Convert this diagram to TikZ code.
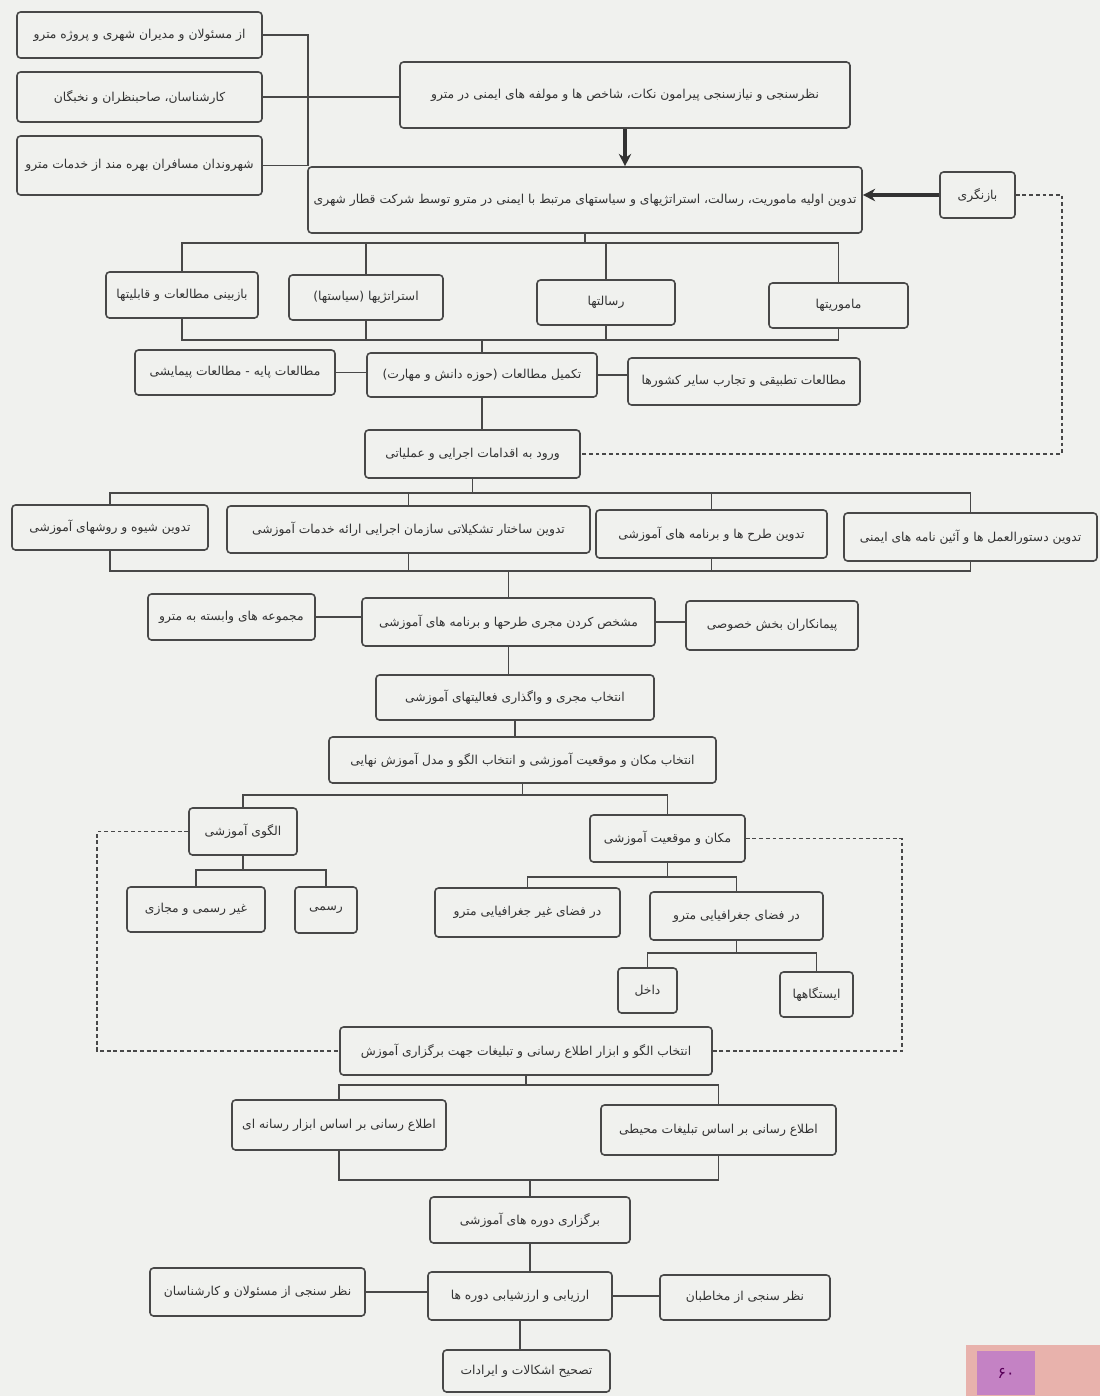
\documentclass[tikz,border=0pt]{standalone}
\usepackage{fontspec}
\newfontfamily\farsi[Script=Arabic]{DejaVu Sans}
\TeXXeTstate=1
\usetikzlibrary{arrows.meta,positioning}
\definecolor{paper}{RGB}{240,241,238}
\definecolor{ink}{RGB}{72,72,72}
\definecolor{badge}{RGB}{232,178,172}
\definecolor{badgein}{RGB}{196,130,196}
\newcommand{\rl}[1]{\beginR #1\endR}

\begin{document}
\begin{tikzpicture}[x=0.02cm, y=-0.02cm,
    block/.style={draw=ink, line width=0.9pt, rounded corners=2pt, fill=paper, inner sep=2pt,
                  font=\farsi\fontsize{7}{9}\selectfont, text=black!80},
    sz/.style 2 args={minimum width=#1*0.02cm, minimum height=#2*0.02cm},
    link/.style={draw=ink, line width=0.8pt},
    heavy/.style={draw=ink!70!black, line width=2.4pt, -{Stealth[length=7pt,width=7pt]}},
    feedback/.style={draw=ink, line width=0.7pt, dash pattern=on 2.2pt off 1.6pt}
  ]

  \fill[paper] (0,0) rectangle (1100,1396);
  \useasboundingbox (0,0) rectangle (1100,1396);

  % survey sources
  \node[block, sz={245}{46}] (src1) at (139.5,35) {\rl{از مسئولان و مدیران شهری و پروژه مترو}};
  \node[block, sz={245}{50}] (src2) at (139.5,97) {\rl{کارشناسان، صاحبنظران و نخبگان}};
  \node[block, sz={245}{59}] (src3) at (139.5,165.5) {\rl{شهروندان مسافران بهره مند از خدمات مترو}};
  \node[block, sz={450}{66}] (survey) at (625,95) {\rl{نظرسنجی و نیازسنجی پیرامون نکات، شاخص ها و مولفه های ایمنی در مترو}};
  \node[block, sz={554}{66}] (draft) at (585,200) {\rl{تدوین اولیه ماموریت، رسالت، استراتژیهای و سیاستهای مرتبط با ایمنی در مترو توسط شرکت قطار شهری}};
  \node[block, sz={75}{46}] (revise) at (977.5,195) {\rl{بازنگری}};

  \coordinate (brk) at (308,97);
  \draw[link] (src1.east) -| (brk) |- (src3.east);
  \draw[link] (src2.east) -- (src2.east -| survey.west);
  \draw[heavy] (survey.south) -- (survey.south |- draft.north);
  \draw[heavy] (revise.west) -- (revise.west -| draft.east);

  % mission, vision, strategies
  \node[block, sz={152}{46}] (revst) at (182,295) {\rl{بازبینی مطالعات و قابلیتها}};
  \node[block, sz={154}{45}] (strat) at (366,297.5) {\rl{استراتژیها (سیاستها)}};
  \node[block, sz={138}{45}] (vision) at (606,302.5) {\rl{رسالتها}};
  \node[block, sz={139}{45}] (mission) at (838.5,305.5) {\rl{ماموریتها}};

  \coordinate (b1) at (0,243);
  \coordinate (b2) at (0,340);
  \draw[link] (draft.south) -- (draft.south |- b1);
  \draw[link] (revst.north) |- (mission.north |- b1) -- (mission.north);
  \draw[link] (strat.north) -- (strat.north |- b1);
  \draw[link] (vision.north) -- (vision.north |- b1);
  \draw[link] (revst.south) |- (mission.south |- b2) -- (mission.south);
  \draw[link] (strat.south) -- (strat.south |- b2);
  \draw[link] (vision.south) -- (vision.south |- b2);

  % studies
  \node[block, sz={200}{45}] (basic) at (235,372.5) {\rl{مطالعات پایه - مطالعات پیمایشی}};
  \node[block, sz={230}{44}] (studies) at (482,375) {\rl{تکمیل مطالعات (حوزه دانش و مهارت)}};
  \node[block, sz={232}{47}] (compare) at (744,381.5) {\rl{مطالعات تطبیقی و تجارب سایر کشورها}};
  \node[block, sz={215}{48}] (enter) at (472.5,454) {\rl{ورود به اقدامات اجرایی و عملیاتی}};

  \draw[link] (studies.north) -- (studies.north |- b2);
  \draw[link] (basic.east) -- (basic.east -| studies.west);
  \draw[link] (studies.east) -- (studies.east -| compare.west);
  \draw[link] (studies.south) -- (studies.south |- enter.north);

  \coordinate (fb1) at (1062,454);
  \draw[feedback] (revise.east) -| (fb1) -- (enter.east);

  % preparation
  \node[block, sz={196}{45}] (method) at (110,527.5) {\rl{تدوین شیوه و روشهای آموزشی}};
  \node[block, sz={363}{47}] (orgchart) at (408.5,529.5) {\rl{تدوین ساختار تشکیلاتی سازمان اجرایی ارائه خدمات آموزشی}};
  \node[block, sz={231}{48}] (plans) at (711.5,534) {\rl{تدوین طرح ها و برنامه های آموزشی}};
  \node[block, sz={253}{48}] (rules) at (970.5,537) {\rl{تدوین دستورالعمل ها و آئین نامه های ایمنی}};

  \coordinate (b3) at (0,493);
  \coordinate (b4) at (0,571);
  \draw[link] (enter.south) -- (enter.south |- b3);
  \draw[link] (method.north) |- (rules.north |- b3) -- (rules.north);
  \draw[link] (orgchart.north) -- (orgchart.north |- b3);
  \draw[link] (plans.north) -- (plans.north |- b3);
  \draw[link] (method.south) |- (rules.south |- b4) -- (rules.south);
  \draw[link] (orgchart.south) -- (orgchart.south |- b4);
  \draw[link] (plans.south) -- (plans.south |- b4);

  % executor
  \node[block, sz={167}{46}] (affil) at (231.5,617) {\rl{مجموعه های وابسته به مترو}};
  \node[block, sz={293}{48}] (executor) at (508.5,622) {\rl{مشخص کردن مجری طرحها و برنامه های آموزشی}};
  \node[block, sz={172}{49}] (private) at (772,625.5) {\rl{پیمانکاران بخش خصوصی}};
  \node[block, sz={278}{45}] (assign) at (515,697.5) {\rl{انتخاب مجری و واگذاری فعالیتهای آموزشی}};
  \node[block, sz={387}{46}] (choose) at (522.5,760) {\rl{انتخاب مکان و موقعیت آموزشی و انتخاب الگو و مدل آموزش نهایی}};

  \draw[link] (executor.north) -- (executor.north |- b4);
  \draw[link] (affil.east) -- (affil.east -| executor.west);
  \draw[link] (executor.east) -- (executor.east -| private.west);
  \draw[link] (executor.south) -- (executor.south |- assign.north);
  \draw[link] (assign.south) -- (assign.south |- choose.north);

  % model and place
  \node[block, sz={108}{47}] (model) at (243,831.5) {\rl{الگوی آموزشی}};
  \node[block, sz={155}{47}] (place) at (667.5,838.5) {\rl{مکان و موقعیت آموزشی}};
  \node[block, sz={138}{45}] (informal) at (196,909.5) {\rl{غیر رسمی و مجازی}};
  \node[block, sz={62}{46}] (formal) at (326,910) {\rl{رسمی}};
  \node[block, sz={185}{49}] (offsite) at (527.5,912.5) {\rl{در فضای غیر جغرافیایی مترو}};
  \node[block, sz={173}{48}] (onsite) at (736.5,916) {\rl{در فضای جغرافیایی مترو}};
  \node[block, sz={59}{45}] (inside) at (647.5,990.5) {\rl{داخل}};
  \node[block, sz={73}{45}] (stations) at (816.5,994.5) {\rl{ایستگاهها}};

  \coordinate (b5) at (0,795);
  \coordinate (b6) at (0,870);
  \coordinate (b7) at (0,877);
  \coordinate (b8) at (0,953);
  \draw[link] (choose.south) -- (choose.south |- b5);
  \draw[link] (model.north) |- (place.north |- b5) -- (place.north);
  \draw[link] (model.south) -- (model.south |- b6);
  \draw[link] (informal.north) |- (formal.north |- b6) -- (formal.north);
  \draw[link] (place.south) -- (place.south |- b7);
  \draw[link] (offsite.north) |- (onsite.north |- b7) -- (onsite.north);
  \draw[link] (onsite.south) -- (onsite.south |- b8);
  \draw[link] (inside.north) |- (stations.north |- b8) -- (stations.north);

  % advertising
  \node[block, sz={372}{48}] (advert) at (526,1051) {\rl{انتخاب الگو و ابزار اطلاع رسانی و تبلیغات جهت برگزاری آموزش}};
  \node[block, sz={214}{50}] (media) at (339,1125) {\rl{اطلاع رسانی بر اساس ابزار رسانه ای}};
  \node[block, sz={235}{50}] (ambient) at (718.5,1130) {\rl{اطلاع رسانی بر اساس تبلیغات محیطی}};

  \coordinate (fb2) at (97,1051);
  \coordinate (fb3) at (902,1051);
  \draw[feedback] (model.west) -| (fb2) -- (advert.west);
  \draw[feedback] (place.east) -| (fb3) -- (advert.east);

  \coordinate (b9) at (0,1085);
  \coordinate (b10) at (0,1180);
  \draw[link] (advert.south) -- (advert.south |- b9);
  \draw[link] (media.north) |- (ambient.north |- b9) -- (ambient.north);
  \draw[link] (media.south) |- (ambient.south |- b10) -- (ambient.south);

  % courses and evaluation
  \node[block, sz={200}{46}] (courses) at (530,1220) {\rl{برگزاری دوره های آموزشی}};
  \node[block, sz={184}{48}] (evaluate) at (520,1296) {\rl{ارزیابی و ارزشیابی دوره ها}};
  \node[block, sz={215}{48}] (officials) at (257.5,1292) {\rl{نظر سنجی از مسئولان و کارشناسان}};
  \node[block, sz={170}{45}] (audience) at (745,1297.5) {\rl{نظر سنجی از مخاطبان}};
  \node[block, sz={167}{42}] (fix) at (526.5,1371) {\rl{تصحیح اشکالات و ایرادات}};

  \draw[link] (courses.north) -- (courses.north |- b10);
  \draw[link] (courses.south) -- (courses.south |- evaluate.north);
  \draw[link] (officials.east) -- (officials.east -| evaluate.west);
  \draw[link] (evaluate.east) -- (evaluate.east -| audience.west);
  \draw[link] (evaluate.south) -- (evaluate.south |- fix.north);

  % page badge
  \fill[badge] (966,1345) rectangle (1100,1396);
  \node[fill=badgein, minimum width=58*0.02cm, minimum height=44*0.02cm, inner sep=0pt,
        font=\farsi\fontsize{9}{10}\selectfont, text=violet!70!black] (pageno) at (1006,1373) {\rl{۶۰}};

\end{tikzpicture}
\end{document}
